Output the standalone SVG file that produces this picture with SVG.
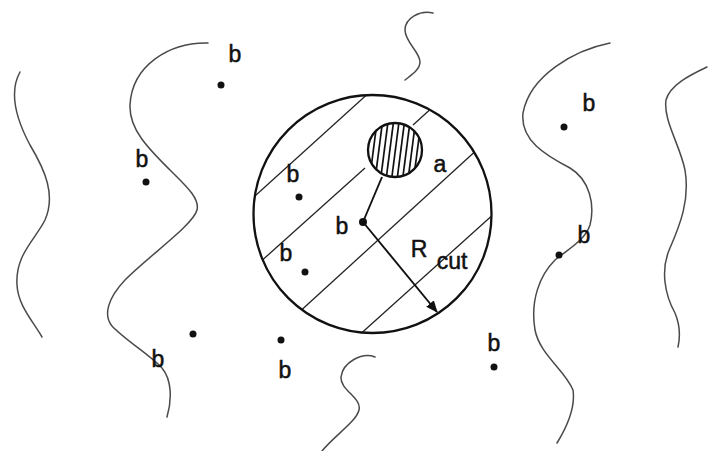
<svg xmlns="http://www.w3.org/2000/svg" width="710" height="451" viewBox="0 0 710 451">
<style>
.wave{fill:none;stroke:#4a4a4a;stroke-width:1.5;stroke-linecap:round}
.rim{fill:none;stroke:#111;stroke-width:2.3}
.hatch{fill:none;stroke:#222;stroke-width:1.3}
.fine{fill:none;stroke:#111;stroke-width:1.7}
.dot{fill:#111}
.lbl{font-family:"Liberation Sans","DejaVu Sans",sans-serif;font-size:23px;fill:#111;stroke:#111;stroke-width:0.5;text-anchor:middle}
.conn{fill:none;stroke:#111;stroke-width:1.9}
</style>
<defs>
<clipPath id="bigclip"><circle cx="372.5" cy="214" r="119"/></clipPath>
<clipPath id="smallclip"><circle cx="395" cy="150" r="27"/></clipPath>
<marker id="arr" markerUnits="userSpaceOnUse" markerWidth="12" markerHeight="10" refX="11" refY="5" orient="auto">
<path d="M0,0 L12,5 L0,10 Z" fill="#111"/>
</marker>
</defs>
<rect width="710" height="451" fill="#fff"/>
<g id="waves">
<path class="wave" d="M20,72 C10,90 14,115 30,145 C45,170 56,195 45,220 C35,240 15,255 17,285 C18,305 32,320 42,337"/>
<path class="wave" d="M208,43 C170,42 132,65 130,105 C129,130 150,150 170,170 C185,185 200,198 197,210 C193,225 150,255 125,280 C108,298 103,315 112,326 C125,340 150,355 162,368 C172,380 172,400 167,417"/>
<path class="wave" d="M433,13 C420,10 405,18 405,30 C405,42 420,52 420,62 C420,70 410,76 405,80"/>
<path class="wave" d="M375,357 C362,352 343,362 341,377 C340,390 362,398 359,410 C356,422 335,435 322,451"/>
<path class="wave" d="M610,43 C575,50 530,75 523,113 C520,140 545,155 570,168 C590,180 595,205 590,225 C585,240 570,248 555,260 C540,275 530,300 535,330 C540,355 565,370 573,390 C576,410 565,430 557,443"/>
<path class="wave" d="M707,67 C690,75 670,85 666,100 C663,120 680,145 685,170 C690,200 680,225 670,248 C660,270 665,295 675,313 C680,325 680,338 678,347"/>
</g>
<g id="cutoff-sphere">
<g clip-path="url(#bigclip)">
<line class="hatch" x1="246" y1="204" x2="372" y2="90"/>
<line class="hatch" x1="258" y1="264" x2="365" y2="168"/>
<line class="hatch" x1="413" y1="125" x2="434" y2="106"/>
<line class="hatch" x1="296" y1="315" x2="480" y2="147"/>
<line class="hatch" x1="356" y1="338" x2="496" y2="212"/>
</g>
<circle class="rim" cx="372.5" cy="214" r="119"/>
</g>
<g id="particle-a">
<g clip-path="url(#smallclip)">
<line class="fine" x1="364" y1="180" x2="372" y2="118"/>
<line class="fine" x1="369.5" y1="180" x2="377.5" y2="118"/>
<line class="fine" x1="375" y1="180" x2="383" y2="118"/>
<line class="fine" x1="380.5" y1="180" x2="388.5" y2="118"/>
<line class="fine" x1="386" y1="180" x2="394" y2="118"/>
<line class="fine" x1="391.5" y1="180" x2="399.5" y2="118"/>
<line class="fine" x1="397" y1="180" x2="405" y2="118"/>
<line class="fine" x1="402.5" y1="180" x2="410.5" y2="118"/>
<line class="fine" x1="408" y1="180" x2="416" y2="118"/>
<line class="fine" x1="413.5" y1="180" x2="421.5" y2="118"/>
<line class="fine" x1="419" y1="180" x2="427" y2="118"/>
</g>
<circle class="rim" cx="395" cy="150" r="27"/>
<text class="lbl" x="440" y="172">a</text>
</g>
<g id="center-b">
<circle class="dot" cx="363" cy="222" r="4"/>
<text class="lbl" x="342" y="234">b</text>
</g>
<g id="b1"><circle class="dot" cx="221" cy="85" r="3.5"/><text class="lbl" x="235" y="62">b</text></g>
<g id="b2"><circle class="dot" cx="146" cy="182" r="3.5"/><text class="lbl" x="142" y="167">b</text></g>
<g id="b3"><circle class="dot" cx="193" cy="334" r="3.5"/><text class="lbl" x="158" y="367">b</text></g>
<g id="b4"><circle class="dot" cx="281" cy="340" r="3.5"/><text class="lbl" x="285" y="378">b</text></g>
<g id="b5"><circle class="dot" cx="299" cy="197" r="3.5"/><text class="lbl" x="293" y="182">b</text></g>
<g id="b6"><circle class="dot" cx="305" cy="272" r="3.5"/><text class="lbl" x="286" y="261">b</text></g>
<g id="b7"><circle class="dot" cx="564" cy="127" r="3.5"/><text class="lbl" x="589" y="111">b</text></g>
<g id="b8"><circle class="dot" cx="559" cy="255" r="3.5"/><text class="lbl" x="584" y="243">b</text></g>
<g id="b9"><circle class="dot" cx="494" cy="367" r="3.5"/><text class="lbl" x="494" y="351">b</text></g>
<g id="connectors">
<line class="conn" x1="363" y1="222" x2="382" y2="177"/>
<line class="conn" x1="363" y1="222" x2="437" y2="312" marker-end="url(#arr)"/>
</g>
<g id="rcut-label">
<text class="lbl" x="419" y="257" font-size="24">R</text>
<text class="lbl" x="452" y="269" font-size="18">cut</text>
</g>
</svg>
